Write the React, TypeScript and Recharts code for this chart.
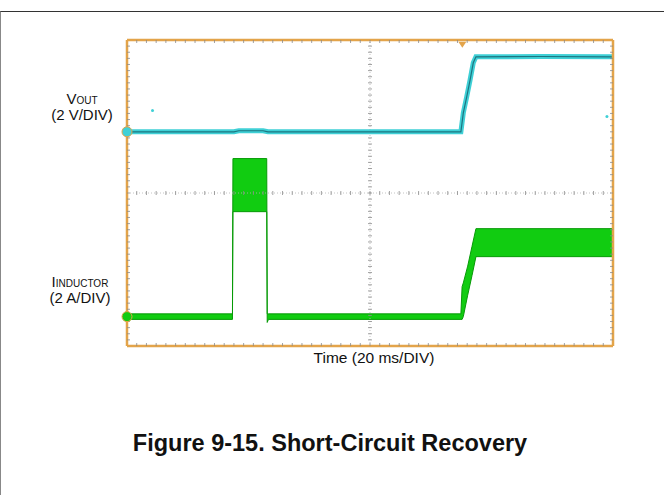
import React from 'react';
import {
  ComposedChart,
  Line,
  Area,
  XAxis,
  YAxis,
  CartesianGrid,
  ReferenceLine,
  ReferenceDot,
} from 'recharts';

// scope screen: 10 div x 10 div, 20 ms/div, 2 V/div, 2 A/div
const timeTicks = [0, 20, 40, 60, 80, 100, 120, 140, 160, 180, 200];
const divTicks = [-5, -4, -3, -2, -1, 0, 1, 2, 3, 4, 5];

// ground reference of each channel, in divisions from screen centre
const VOUT_ZERO = 2;
const IL_ZERO = -4.04;
const VOLTS_PER_DIV = 2;
const AMPS_PER_DIV = 2;

// VOUT (V)
const voutTime = [0, 44, 46, 56, 58, 137.4, 138.4, 139.8, 141.2, 142.5, 143.6, 170, 200];
const voutVolts = [0, 0, 0.07, 0.07, 0, 0, 1.24, 2.29, 3.4, 4.51, 4.9, 4.92, 4.9];

// inductor current envelope (A): low / high of the ripple band
const ilTime = [0, 43.4, 43.6, 57.5, 57.7, 58.2, 137.4, 137.9, 138.4, 140.2, 142, 143.6, 200];
const ilLow = [-0.18, -0.18, 6.86, 6.86, -0.38, -0.18, -0.18, -0.18, 0, 1.4, 2.7, 3.92, 3.92];
const ilHigh = [0.18, 0.18, 10.33, 10.33, 0.18, 0.18, 0.18, 1.96, 2.2, 3.3, 4.6, 5.75, 5.75];

const ORANGE = '#e3a44a';
const CYAN = '#3fd0d6';
const GREEN = '#11cc11';

const voutData = voutTime.map((t, i) => ({ t, v: VOUT_ZERO + voutVolts[i] / VOLTS_PER_DIV }));
const ilData = ilTime.map((t, i) => ({
  t,
  band: [IL_ZERO + ilLow[i] / AMPS_PER_DIV, IL_ZERO + ilHigh[i] / AMPS_PER_DIV],
}));

// line with 50 minor tick marks; side: 0 = centred, 1/-1 = inward direction
const tickedLine = (stroke: string, width: number, dash: string | undefined, side: number) => (props: any) => {
  const { x1, y1, x2, y2 } = props;
  const vertical = Math.abs(x1 - x2) < 0.5;
  const marks = [];
  const a = side === 0 ? -2 : 0;
  const b = side === 0 ? 2 : 3 * side;
  for (let i = 1; i < 50; i++) {
    const f = i / 50;
    const x = x1 + (x2 - x1) * f;
    const y = y1 + (y2 - y1) * f;
    marks.push(
      vertical ? (
        <line key={i} x1={x + a} x2={x + b} y1={y} y2={y} stroke="#8a8a8a" strokeWidth={0.8} />
      ) : (
        <line key={i} x1={x} x2={x} y1={y + a} y2={y + b} stroke="#8a8a8a" strokeWidth={0.8} />
      )
    );
  }
  return (
    <g>
      <line x1={x1} y1={y1} x2={x2} y2={y2} stroke={stroke} strokeWidth={width} strokeDasharray={dash} />
      {marks}
    </g>
  );
};

const CenterLine = tickedLine('#b5b5b5', 0.8, '1 2', 0);

const Trigger = (props: any) => {
  const { cx, cy } = props;
  return <path d={`M${cx - 4},${cy - 2} L${cx + 4},${cy - 2} L${cx},${cy + 4} Z`} fill={ORANGE} />;
};

const label: React.CSSProperties = {
  position: 'absolute',
  fontFamily: '"Liberation Sans", Arial, sans-serif',
  fontSize: 15,
  color: '#111',
  textAlign: 'center',
  whiteSpace: 'nowrap',
  lineHeight: '18px',
};

export default function App() {
  return (
    <div
      style={{
        position: 'absolute',
        left: 0,
        top: 0,
        width: 664,
        height: 495,
        background: '#fff',
        overflow: 'hidden',
      }}
    >
      <div
        style={{
          position: 'absolute',
          left: 0,
          top: 11,
          width: 664,
          height: 490,
          borderTop: '1.5px solid #333',
          borderLeft: '1px solid #888',
          boxSizing: 'border-box',
        }}
      />
      <div style={{ position: 'absolute', left: 0, top: 0 }}>
        <ComposedChart
          width={664}
          height={495}
          margin={{ top: 40, left: 127, right: 51, bottom: 149 }}
        >
          <CartesianGrid
            xAxisId="t"
            yAxisId="v"
            stroke="#c4c4c4"
            strokeDasharray="1 3"
          />
          <XAxis
            xAxisId="t"
            type="number"
            dataKey="t"
            domain={[0, 200]}
            ticks={timeTicks}
            height={0}
            tick={false}
            tickLine={false}
            axisLine={false}
            allowDataOverflow
          />
          <YAxis
            yAxisId="v"
            type="number"
            domain={[-5, 5]}
            ticks={divTicks}
            width={0}
            tick={false}
            tickLine={false}
            axisLine={false}
            allowDataOverflow
          />
          <ReferenceLine xAxisId="t" yAxisId="v" x={100} shape={CenterLine} />
          <ReferenceLine xAxisId="t" yAxisId="v" y={0} shape={CenterLine} />

          <Area
            xAxisId="t"
            yAxisId="v"
            data={ilData}
            dataKey="band"
            type="linear"
            fill={GREEN}
            fillOpacity={1}
            stroke="#079a07"
            strokeWidth={1}
            isAnimationActive={false}
            dot={false}
            activeDot={false}
          />
          <Line
            xAxisId="t"
            yAxisId="v"
            data={voutData}
            dataKey="v"
            type="linear"
            stroke={CYAN}
            strokeWidth={5}
            dot={false}
            activeDot={false}
            isAnimationActive={false}
          />
          <Line
            xAxisId="t"
            yAxisId="v"
            data={voutData}
            dataKey="v"
            type="linear"
            stroke="#1d7580"
            strokeWidth={1.2}
            dot={false}
            activeDot={false}
            isAnimationActive={false}
          />

          {/* scope frame */}
          <ReferenceLine xAxisId="t" yAxisId="v" x={0} shape={tickedLine(ORANGE, 2.5, undefined, 1)} />
          <ReferenceLine xAxisId="t" yAxisId="v" x={200} shape={tickedLine(ORANGE, 2.5, undefined, -1)} />
          <ReferenceLine xAxisId="t" yAxisId="v" y={5} shape={tickedLine(ORANGE, 2.5, undefined, 1)} />
          <ReferenceLine xAxisId="t" yAxisId="v" y={-5} shape={tickedLine(ORANGE, 2.5, undefined, -1)} />

          <ReferenceDot xAxisId="t" yAxisId="v" x={0} y={VOUT_ZERO} r={5} fill={CYAN} stroke={ORANGE} strokeWidth={1} />
          <ReferenceDot xAxisId="t" yAxisId="v" x={0} y={IL_ZERO} r={5} fill={GREEN} stroke={ORANGE} strokeWidth={1} />
          <ReferenceDot xAxisId="t" yAxisId="v" x={138} y={4.88} shape={Trigger} />
          <ReferenceDot xAxisId="t" yAxisId="v" x={10.5} y={2.7} r={1.5} fill={CYAN} stroke="none" />
          <ReferenceDot xAxisId="t" yAxisId="v" x={197.5} y={2.5} r={1.5} fill={CYAN} stroke="none" />
        </ComposedChart>
      </div>

      <div style={{ ...label, left: 39, top: 90, width: 86 }}>
        V<span style={{ fontSize: 10 }}>OUT</span>
      </div>
      <div style={{ ...label, left: 39, top: 106, width: 86 }}>(2 V/DIV)</div>
      <div style={{ ...label, left: 30, top: 273, width: 100 }}>
        I<span style={{ fontSize: 10 }}>INDUCTOR</span>
      </div>
      <div style={{ ...label, left: 37, top: 289, width: 86 }}>(2 A/DIV)</div>
      <div style={{ ...label, left: 274, top: 349, width: 200, fontSize: 15.5 }}>Time (20 ms/DIV)</div>
      <div
        style={{
          ...label,
          left: 80,
          top: 429,
          width: 500,
          fontSize: 23.5,
          fontWeight: 'bold',
          lineHeight: '28px',
        }}
      >
        Figure 9-15. Short-Circuit Recovery
      </div>
    </div>
  );
}
